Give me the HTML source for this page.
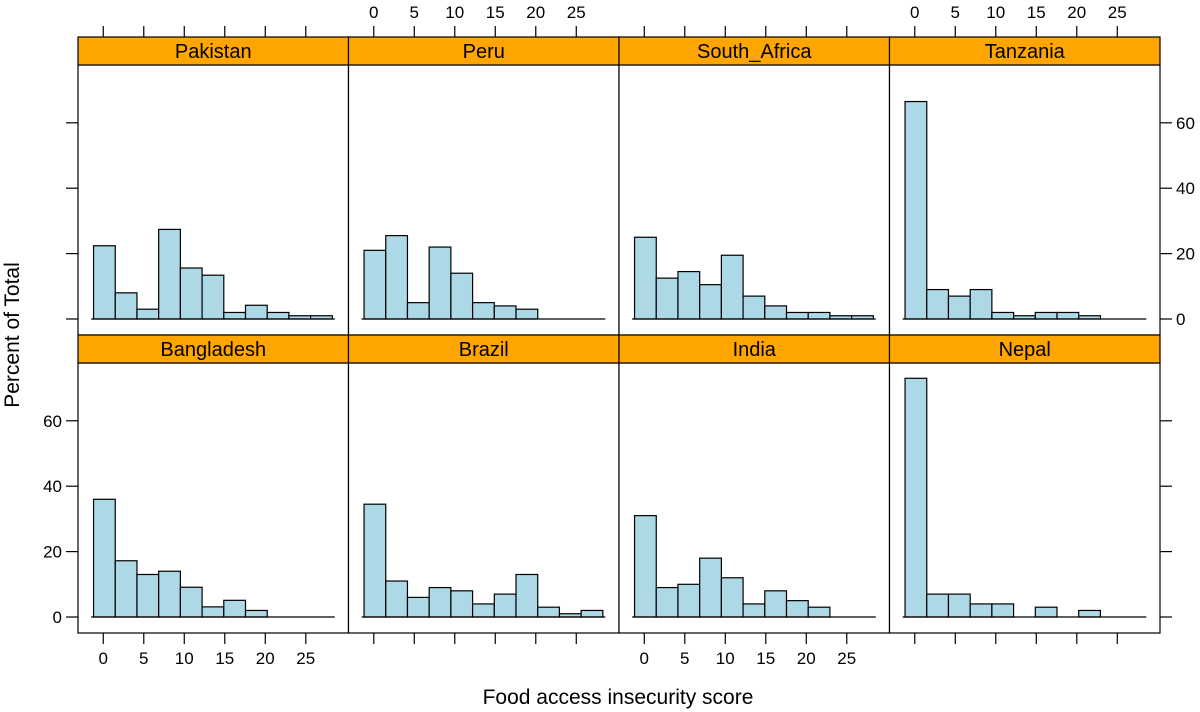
<!DOCTYPE html>
<html><head><meta charset="utf-8"><style>
html,body{margin:0;padding:0;background:#fff}
svg{display:block;font-family:"Liberation Sans",Arial,sans-serif}
</style></head><body>
<svg id="chart" width="1200" height="712" viewBox="0 0 1200 712" xmlns="http://www.w3.org/2000/svg">
<text x="0" y="0" transform="translate(19,335) rotate(-90)" text-anchor="middle" font-size="21">Percent of Total</text>
<text x="618" y="704" text-anchor="middle" font-size="21">Food access insecurity score</text>
</svg>
<script>
const panelNames = ["Pakistan","Peru","South_Africa","Tanzania","Bangladesh","Brazil","India","Nepal"];
const pakistan = [22.4,8,3,27.4,15.6,13.4,2,4.2,2,1,1];
const peru = [21,25.5,5,22,14,5,4,3,0,0,0];
const southAfrica = [25,12.5,14.5,10.5,19.5,7,4,2,2,1,1];
const tanzania = [66.5,9,7,9,2,1,2,2,1,0,0];
const bangladesh = [36,17.2,13,14,9.1,3.1,5.1,2,0,0,0];
const brazil = [34.5,11,6,9,8,4,7,13,3,1,2];
const india = [31,9,10,18,12,4,8,5,3,0,0];
const nepal = [73,7,7,4,4,0,3,0,2,0,0];
const xTicks = [0,5,10,15,20,25];
const yTicks = [0,20,40,60];
const binStart = -1.2, binWidth = 2.68;

const series = [pakistan,peru,southAfrica,tanzania,bangladesh,brazil,india,nepal];
const svg = document.getElementById('chart');
const NS = "http://www.w3.org/2000/svg";
function mk(tag, attrs, parent){const e=document.createElementNS(NS,tag);for(const k in attrs)e.setAttribute(k,attrs[k]);(parent||svg).appendChild(e);return e;}
const colX = [78,348.5,619,889.5], colW = 270.5;
const rowTop = [37,335], stripH = 28, plotH = 270;
const xPx = 8.1, yPx = 3.27;
function sx(c,v){return colX[c] + (v+3.12)*xPx;}
function sy(r,v){return (r===0?319:617) - v*yPx;}

for(let i=0;i<8;i++){
  const r = Math.floor(i/4), c = i%4;
  const g = mk('g',{});
  
  
  const py = rowTop[r]+stripH;
  mk('rect',{x:colX[c],y:py,width:colW,height:plotH,fill:'#fff',stroke:'none'},g);
  const vals = series[i];
  vals.forEach((v,k)=>{
    const x0 = binStart+k*binWidth;
    if(v>0){
      const b = mk('rect',{x:sx(c,x0),y:sy(r,v),width:binWidth*xPx,height:v*yPx,fill:'#ADD8E6',stroke:'#000','stroke-width':1.2},g);
      
      
    }
  });
  mk('line',{x1:sx(c,binStart-0.3),x2:sx(c,binStart+vals.length*binWidth+0.3),y1:sy(r,0),y2:sy(r,0),stroke:'#000','stroke-width':1.2},g);
  mk('rect',{x:colX[c],y:py,width:colW,height:plotH,fill:'none',stroke:'#000','stroke-width':1.2},g);
  const st = mk('rect',{x:colX[c],y:rowTop[r],width:colW,height:stripH,fill:'#FFA500',stroke:'#000','stroke-width':1.2},g);
  
  
  const t = mk('text',{x:colX[c]+colW/2,y:rowTop[r]+21,'text-anchor':'middle','font-size':20},g);
  t.textContent = panelNames[i];
  
  
  if(r===0){
    xTicks.forEach(v=>{
      mk('line',{x1:sx(c,v),x2:sx(c,v),y1:26,y2:37,stroke:'#000','stroke-width':1.2});
      if(c===1||c===3){const l=mk('text',{x:sx(c,v),y:18,'text-anchor':'middle','font-size':17});l.textContent=v;
        
        }
    });
  } else {
    xTicks.forEach(v=>{
      mk('line',{x1:sx(c,v),x2:sx(c,v),y1:633,y2:644,stroke:'#000','stroke-width':1.2});
      if(c===0||c===2){const l=mk('text',{x:sx(c,v),y:664,'text-anchor':'middle','font-size':17});l.textContent=v;
        
        }
    });
  }
  if(c===0){
    yTicks.forEach(v=>{
      mk('line',{x1:66,x2:78,y1:sy(r,v),y2:sy(r,v),stroke:'#000','stroke-width':1.2});
      if(r===1){const l=mk('text',{x:62,y:sy(r,v)+6,'text-anchor':'end','font-size':17});l.textContent=v;
        
        }
    });
  }
  if(c===3){
    yTicks.forEach(v=>{
      mk('line',{x1:1160,x2:1172,y1:sy(r,v),y2:sy(r,v),stroke:'#000','stroke-width':1.2});
      if(r===0){const l=mk('text',{x:1176,y:sy(r,v)+6,'text-anchor':'start','font-size':17});l.textContent=v;
        
        }
    });
  }
}
</script>
</body></html>
